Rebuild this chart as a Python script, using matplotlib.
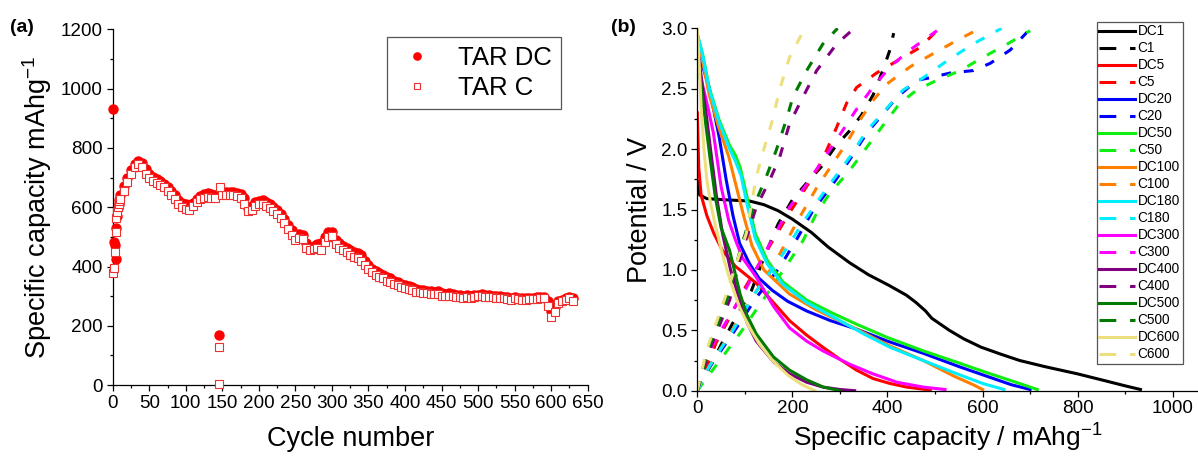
import matplotlib
matplotlib.use("Agg")
import matplotlib.pyplot as plt
from matplotlib.ticker import MultipleLocator, FormatStrFormatter

plt.rcParams['font.family'] = ['Liberation Sans', 'DejaVu Sans']
plt.rcParams['mathtext.fontset'] = 'custom'
plt.rcParams['mathtext.rm'] = 'Liberation Sans'
plt.rcParams['mathtext.it'] = 'Liberation Sans'

# ---- (a) cycling data: cycles 1-9, then every 5th cycle up to 630 ----
cycle = [1, 2, 3, 4, 5, 6, 7, 8, 9] + list(range(10, 631, 5))

dc_capacity = [
    930, 483, 474, 424, 531, 572, 598, 612, 626,
    640, 672, 700, 725, 745, 755, 748, 728, 712, 703,   # 10-55
    695, 688, 680, 668, 655, 640, 625, 615, 610, 608,   # 60-105
    615, 628, 638, 645, 648, 645, 640, 170, 650, 652,   # 110-155
    652, 650, 648, 645, 630, 598, 605, 618, 622, 624,   # 160-205
    618, 612, 600, 590, 578, 560, 540, 522, 505, 510,   # 210-255
    508, 480, 465, 470, 475, 480, 500, 515, 518, 490,   # 260-305
    478, 470, 462, 455, 448, 445, 438, 420, 405, 392,   # 310-355
    385, 378, 372, 365, 360, 352, 348, 342, 338, 335,   # 360-405
    330, 325, 322, 320, 318, 316, 315, 318, 312, 308,   # 410-455
    310, 306, 305, 303, 302, 303, 300, 303, 305, 306,   # 460-505
    304, 303, 302, 300, 300, 298, 296, 295, 298, 295,   # 510-555
    294, 293, 295, 294, 296, 297, 298, 285, 250, 262,   # 560-605
    282, 288, 292, 296, 292,                            # 610-630
]

c_capacity = [
    378, 394, 450, 517, 563, 585, 600, 612, 620,
    628, 655, 685, 712, 735, 745, 735, 712, 698, 690,
    682, 675, 668, 655, 640, 628, 612, 602, 595, 592,
    605, 618, 628, 632, 635, 632, 630, 128, 640, 640,
    642, 640, 638, 632, 612, 588, 592, 605, 610, 612,
    605, 598, 588, 578, 565, 548, 528, 505, 488, 495,
    492, 462, 455, 458, 462, 455, 482, 498, 502, 475,
    462, 455, 448, 440, 432, 428, 420, 405, 392, 380,
    372, 365, 360, 352, 348, 340, 336, 330, 326, 325,
    320, 315, 313, 312, 310, 308, 306, 308, 302, 300,
    302, 299, 298, 296, 295, 297, 292, 296, 300, 302,
    298, 297, 296, 294, 294, 292, 290, 288, 292, 290,
    288, 287, 290, 289, 291, 292, 292, 265, 228, 245,
    278, 284, 288, 292, 282,
]
c_extra_cycle = [146, 147]
c_extra_capacity = [5, 667]

# ---- (b) voltage profiles: capacity (mAh/g) and potential (V) ----
dc1_q = [0, 5, 20, 60, 110, 140, 170, 200, 240, 275, 320, 360, 404, 440, 460, 480, 493, 530, 560, 597, 640, 678, 730, 799, 860, 900, 932]
dc1_v = [1.74, 1.62, 1.59, 1.58, 1.57, 1.54, 1.49, 1.42, 1.31, 1.19, 1.06, 0.96, 0.87, 0.79, 0.73, 0.66, 0.60, 0.50, 0.43, 0.36, 0.30, 0.25, 0.20, 0.14, 0.08, 0.04, 0.01]
c1_q = [0, 20, 50, 80, 114, 140, 170, 200, 230, 260, 290, 320, 345, 370, 390, 405, 413]
c1_v = [0, 0.15, 0.38, 0.60, 0.83, 1.10, 1.38, 1.58, 1.72, 1.85, 2.02, 2.15, 2.28, 2.45, 2.65, 2.82, 2.96]

dc5_q = [0, 3, 8, 20, 35, 53, 80, 124, 160, 194, 230, 264, 300, 335, 370, 405, 440, 470, 490]
dc5_v = [2.30, 1.85, 1.62, 1.45, 1.30, 1.16, 1.03, 0.89, 0.73, 0.58, 0.46, 0.36, 0.26, 0.17, 0.10, 0.06, 0.03, 0.015, 0.005]
c5_q = [0, 15, 40, 70, 100, 130, 160, 190, 220, 251, 272, 293, 314, 335, 377, 420, 468, 504]
c5_v = [0, 0.15, 0.40, 0.62, 0.85, 1.05, 1.25, 1.45, 1.63, 1.82, 1.99, 2.18, 2.38, 2.51, 2.63, 2.73, 2.84, 2.98]

dc20_q = [0, 10, 25, 46, 61, 75, 89, 110, 130, 158, 190, 230, 280, 335, 400, 475, 550, 616, 660, 700]
dc20_v = [2.85, 2.70, 2.51, 2.10, 1.74, 1.45, 1.22, 1.05, 0.93, 0.83, 0.74, 0.66, 0.58, 0.51, 0.41, 0.31, 0.20, 0.11, 0.05, 0.01]
c20_q = [0, 25, 74, 124, 173, 210, 243, 285, 320, 356, 390, 420, 462, 489, 532, 580, 616, 658, 694]
c20_v = [0, 0.19, 0.47, 0.77, 1.02, 1.26, 1.49, 1.71, 1.91, 2.13, 2.29, 2.43, 2.57, 2.59, 2.63, 2.65, 2.71, 2.82, 2.97]

dc50_q = [0, 11, 25, 46, 68, 80, 90, 106, 122, 147, 180, 230, 280, 335, 400, 475, 550, 616, 670, 715]
dc50_v = [2.95, 2.79, 2.51, 2.24, 2.03, 1.95, 1.85, 1.58, 1.30, 1.08, 0.90, 0.75, 0.65, 0.55, 0.44, 0.33, 0.23, 0.14, 0.07, 0.01]
c50_q = [0, 32, 89, 152, 190, 222, 251, 278, 320, 363, 399, 426, 462, 504, 553, 601, 652, 700]
c50_v = [0, 0.17, 0.47, 0.83, 1.05, 1.24, 1.47, 1.63, 1.82, 2.05, 2.24, 2.38, 2.49, 2.57, 2.65, 2.76, 2.87, 2.98]

dc100_q = [0, 10, 25, 45, 66, 82, 98, 115, 140, 194, 250, 335, 400, 475, 540, 580, 600]
dc100_v = [2.95, 2.75, 2.45, 2.18, 1.94, 1.69, 1.44, 1.20, 1.00, 0.80, 0.67, 0.51, 0.38, 0.25, 0.12, 0.05, 0.01]
c100_q = [0, 22, 70, 120, 165, 210, 251, 285, 314, 342, 369, 399, 447, 496, 546, 595]
c100_v = [0, 0.18, 0.48, 0.80, 1.07, 1.40, 1.68, 1.88, 2.05, 2.24, 2.40, 2.54, 2.68, 2.79, 2.90, 3.0]

dc180_q = [0, 11, 25, 46, 68, 80, 92, 106, 122, 147, 180, 230, 300, 350, 405, 475, 546, 600, 645]
dc180_v = [2.95, 2.78, 2.50, 2.22, 2.00, 1.90, 1.78, 1.52, 1.26, 1.05, 0.88, 0.73, 0.58, 0.47, 0.36, 0.25, 0.14, 0.06, 0.01]
c180_q = [0, 25, 75, 125, 175, 220, 264, 320, 356, 399, 433, 475, 525, 580, 640]
c180_v = [0, 0.20, 0.50, 0.83, 1.10, 1.38, 1.63, 1.93, 2.15, 2.34, 2.49, 2.59, 2.73, 2.87, 3.0]

dc300_q = [0, 10, 22, 34, 50, 66, 80, 95, 124, 160, 194, 230, 264, 320, 369, 420, 475, 521]
dc300_v = [2.75, 2.55, 2.35, 2.13, 1.69, 1.41, 1.25, 1.10, 0.94, 0.70, 0.52, 0.41, 0.33, 0.22, 0.14, 0.07, 0.03, 0.01]
c300_q = [0, 21, 53, 103, 145, 194, 230, 264, 300, 335, 369, 405, 447, 504]
c300_v = [0, 0.30, 0.52, 0.85, 1.16, 1.52, 1.71, 1.91, 2.12, 2.33, 2.51, 2.68, 2.82, 2.98]

dc400_q = [0, 5, 11, 20, 29, 40, 53, 70, 89, 105, 124, 160, 194, 230, 264, 300, 331]
dc400_v = [2.85, 2.70, 2.51, 2.25, 1.96, 1.62, 1.30, 1.00, 0.75, 0.56, 0.41, 0.24, 0.14, 0.07, 0.03, 0.01, 0.0]
c400_q = [0, 25, 68, 95, 124, 152, 173, 194, 222, 251, 293, 330]
c400_v = [0, 0.33, 0.75, 1.16, 1.52, 1.74, 1.93, 2.21, 2.43, 2.65, 2.87, 3.0]

dc500_q = [0, 5, 10, 18, 27, 38, 50, 68, 90, 105, 124, 160, 194, 230, 265, 300]
dc500_v = [2.80, 2.62, 2.45, 2.20, 1.92, 1.60, 1.35, 1.16, 0.80, 0.62, 0.47, 0.28, 0.17, 0.09, 0.03, 0.0]
c500_q = [0, 22, 62, 90, 118, 145, 166, 187, 201, 230, 264, 295]
c500_v = [0, 0.33, 0.75, 1.16, 1.52, 1.77, 1.99, 2.24, 2.43, 2.65, 2.87, 3.0]

dc600_q = [0, 4, 8, 14, 20, 28, 39, 55, 70, 89, 110, 130, 158, 190, 220, 247]
dc600_v = [3.0, 2.70, 2.35, 2.00, 1.75, 1.55, 1.35, 1.10, 0.90, 0.69, 0.52, 0.39, 0.25, 0.13, 0.05, 0.0]
c600_q = [0, 19, 61, 103, 124, 137, 158, 173, 194, 226]
c600_v = [0, 0.33, 0.80, 1.30, 1.77, 1.96, 2.24, 2.49, 2.76, 3.0]

profiles = [
    ('1', '#000000', dc1_q, dc1_v, c1_q, c1_v),
    ('5', '#ff0000', dc5_q, dc5_v, c5_q, c5_v),
    ('20', '#0000ff', dc20_q, dc20_v, c20_q, c20_v),
    ('50', '#11ee11', dc50_q, dc50_v, c50_q, c50_v),
    ('100', '#ff8000', dc100_q, dc100_v, c100_q, c100_v),
    ('180', '#00eeff', dc180_q, dc180_v, c180_q, c180_v),
    ('300', '#ff00ff', dc300_q, dc300_v, c300_q, c300_v),
    ('400', '#800080', dc400_q, dc400_v, c400_q, c400_v),
    ('500', '#007a00', dc500_q, dc500_v, c500_q, c500_v),
    ('600', '#ece07e', dc600_q, dc600_v, c600_q, c600_v),
]

W, H = 1198, 457
fig = plt.figure(figsize=(W / 100, H / 100), dpi=100)
ax1 = fig.add_axes([112.7 / W, (H - 385) / H, 475 / W, 355.5 / H])
ax2 = fig.add_axes([697.3 / W, (H - 390.7) / H, 500.7 / W, 362.4 / H])


def style_axes(ax):
    for side in ('top', 'right'):
        ax.spines[side].set_visible(False)
    for side in ('left', 'bottom'):
        ax.spines[side].set_linewidth(0.9)
    ax.tick_params(which='major', direction='out', length=4.5, width=0.9,
                   labelsize=13.6, pad=2.5)
    ax.tick_params(which='minor', direction='out', length=2.5, width=0.9)


# (a) specific capacity vs cycle number
ax1.plot(cycle, dc_capacity, 'o', ls='none', ms=6.5, color='#ff0000',
         label='TAR DC', clip_on=False, zorder=3)
ax1.plot(cycle + c_extra_cycle, c_capacity + c_extra_capacity, 's', ls='none',
         ms=6, mfc='white', mec='#ee3030', mew=0.8,
         label='TAR C', clip_on=False, zorder=4)
ax1.set_xlim(0, 650)
ax1.set_ylim(0, 1200)
ax1.xaxis.set_major_locator(MultipleLocator(50))
ax1.xaxis.set_minor_locator(MultipleLocator(25))
ax1.yaxis.set_major_locator(MultipleLocator(200))
ax1.yaxis.set_minor_locator(MultipleLocator(100))
style_axes(ax1)
ax1.set_xlabel('Cycle number', fontsize=19.5, labelpad=10)
ax1.set_ylabel('Specific capacity mAhg$^{-1}$', fontsize=19.5, labelpad=5)
leg1 = ax1.legend(loc='upper left', bbox_to_anchor=(387 / W, 1 - 37 / H),
                  bbox_transform=fig.transFigure, fontsize=18.5,
                  fancybox=False, edgecolor='#555555', framealpha=1,
                  borderpad=0.35, handlelength=1.6, handletextpad=0.8,
                  labelspacing=0.25, borderaxespad=0, markerscale=0.8)
leg1.get_frame().set_linewidth(0.9)

# (b) discharge (solid) and charge (dashed) profiles
for n, color, dq, dv, cq, cv in profiles:
    ax2.plot(dq, dv, color=color, lw=2.2, label='DC' + n)
    ax2.plot(cq, cv, color=color, lw=2.2, ls=(0, (3.2, 4.2)), label='C' + n)
ax2.set_xlim(0, 1053)
ax2.set_ylim(0, 3.0)
ax2.xaxis.set_major_locator(MultipleLocator(200))
ax2.xaxis.set_minor_locator(MultipleLocator(100))
ax2.yaxis.set_major_locator(MultipleLocator(0.5))
ax2.yaxis.set_minor_locator(MultipleLocator(0.25))
ax2.yaxis.set_major_formatter(FormatStrFormatter('%.1f'))
style_axes(ax2)
ax2.set_xlabel('Specific capacity / mAhg$^{-1}$', fontsize=19, labelpad=3)
ax2.set_ylabel('Potential / V', fontsize=19.5, labelpad=6)
leg2 = ax2.legend(loc='upper left', bbox_to_anchor=(1096.7 / W, 1 - 21.7 / H),
                  bbox_transform=fig.transFigure, fontsize=9.8,
                  fancybox=False, edgecolor='#555555', framealpha=1,
                  borderpad=0.2, handlelength=2.6, handletextpad=0.2,
                  labelspacing=0.22, borderaxespad=0)
leg2.get_frame().set_linewidth(0.9)
for i, line in enumerate(leg2.get_lines()):
    if i % 2 == 1:
        line.set_dashes((5.5, 4.5))

fig.text(10 / W, 1 - 27 / H, '(a)', fontsize=14, fontweight='bold', va='center')
fig.text(611 / W, 1 - 27 / H, '(b)', fontsize=14, fontweight='bold', va='center')

fig.savefig('out.png', dpi=100)
